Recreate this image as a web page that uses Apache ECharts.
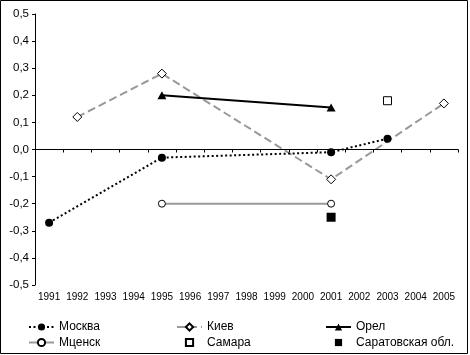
<!DOCTYPE html>
<html>
<head>
<meta charset="utf-8">
<script src="https://cdn.jsdelivr.net/npm/echarts@6/dist/echarts.min.js"></script>
<style>
html,body{margin:0;padding:0;background:#fff;}
#c{width:470px;height:355px;}
</style>
</head>
<body>
<div id="c"></div>
<script>
var years = ['1991','1992','1993','1994','1995','1996','1997','1998','1999','2000','2001','2002','2003','2004','2005'];
var yTicks = [-0.5,-0.4,-0.3,-0.2,-0.1,0,0.1,0.2,0.3,0.4,0.5];
var moskva = [-0.27,null,null,null,-0.03,null,null,null,null,null,-0.01,null,0.04,null,null];
var kiev   = [null,0.12,null,null,0.28,null,null,null,null,null,-0.11,null,null,null,0.17];
var orel   = [null,null,null,null,0.20,null,null,null,null,null,0.155,null,null,null,null];
var mcensk = [null,null,null,null,-0.20,null,null,null,null,null,-0.20,null,null,null,null];
var samara = [null,null,null,null,null,null,null,null,null,null,null,null,0.18,null,null];
var saratov= [null,null,null,null,null,null,null,null,null,null,-0.25,null,null,null,null];

var FONT = '"Liberation Sans", Arial, sans-serif';
var chart = echarts.init(document.getElementById('c'), null, {renderer:'canvas'});
function legendCol(left, items){
  return {
    orient:'vertical', left:left, top:320, height:34, padding:0,
    itemWidth:25, itemHeight:9, itemGap:1.5,
    textStyle:{fontFamily:FONT, fontSize:12, color:'#000', lineHeight:14},
    data:items
  };
}
chart.setOption({
  animation:false,
  backgroundColor:'#fff',
  graphic:[{type:'rect', shape:{x:0.5,y:0.5,width:467,height:353}, style:{fill:'none', stroke:'#000', lineWidth:1}, silent:true}],
  grid:{left:35, right:12, top:14, bottom:70},
  legend:[
    legendCol(28, ['Москва','Мценск']),
    legendCol(176, ['Киев','Самара']),
    legendCol(325, ['Орел','Саратовская обл.'])
  ],
  xAxis:{
    type:'category', data:years, boundaryGap:true,
    axisLine:{lineStyle:{color:'#000', width:1}},
    axisTick:{show:true, length:3, interval:0, lineStyle:{color:'#000'}},
    axisLabel:{interval:0, fontFamily:FONT, fontSize:10, color:'#000', margin:7},
    splitLine:{show:false}
  },
  yAxis:{
    type:'value', min:-0.5, max:0.5, interval:0.1,
    axisLine:{show:true, lineStyle:{color:'#000', width:1}},
    axisTick:{show:true, length:3, lineStyle:{color:'#000'}},
    axisLabel:{fontFamily:FONT, fontSize:11.5, color:'#000', margin:6,
      formatter:function(v){ return (Math.round(v*10)/10).toFixed(1).replace('.',','); }},
    splitLine:{show:false}
  },
  series:[
    {name:'Москва', type:'line', data:moskva, connectNulls:true, symbol:'circle', symbolSize:8,
     itemStyle:{color:'#000'}, lineStyle:{color:'#000', width:2, type:[2,2.5]}, z:5,
     markLine:{silent:true, symbol:'none', label:{show:false}, lineStyle:{color:'#000', width:1, type:'solid'}, data:[{yAxis:0}], animation:false}},
    {name:'Мценск', type:'line', data:mcensk, connectNulls:true, symbol:'circle', symbolSize:7,
     itemStyle:{color:'#fff', borderColor:'#000', borderWidth:1}, lineStyle:{color:'#999', width:2}},
    {name:'Киев', type:'line', data:kiev, connectNulls:true, symbol:'diamond', symbolSize:9,
     itemStyle:{color:'#fff', borderColor:'#000', borderWidth:1}, lineStyle:{color:'#999', width:2, type:[8,4]}},
    {name:'Самара', type:'line', data:samara, symbol:'rect', symbolSize:8,
     itemStyle:{color:'#fff', borderColor:'#000', borderWidth:1}, lineStyle:{color:'#000', width:0, opacity:0}},
    {name:'Орел', type:'line', data:orel, connectNulls:true, symbol:'triangle', symbolSize:[9,8],
     itemStyle:{color:'#000'}, lineStyle:{color:'#000', width:2}},
    {name:'Саратовская обл.', type:'line', data:saratov, symbol:'rect', symbolSize:9,
     itemStyle:{color:'#000'}, lineStyle:{color:'#000', width:0, opacity:0}}
  ]
});
</script>
</body>
</html>
